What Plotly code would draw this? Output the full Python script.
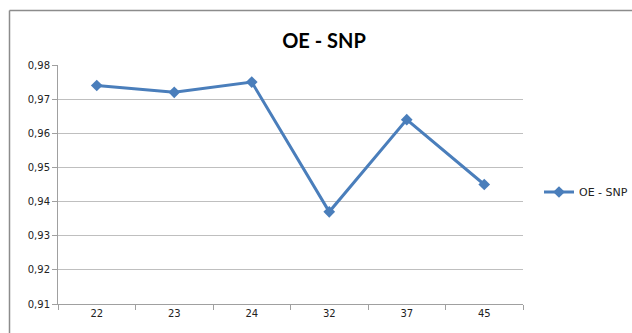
import plotly.graph_objects as go

# Series data
categories = ["22", "23", "24", "32", "37", "45"]
values = [0.974, 0.972, 0.975, 0.937, 0.964, 0.945]
series_name = "OE - SNP"
y_ticks = [0.91, 0.92, 0.93, 0.94, 0.95, 0.96, 0.97, 0.98]

W, H = 632, 333
L, R, T, B = 58, 109, 65, 29
pw, ph = W - L - R, H - T - B

def px_x(x):
    return (x - L) / pw

def px_y(y):
    return (H - B - y) / ph

BLUE = "#4A7EBB"
GRID = "#BFBFBF"

fig = go.Figure()
fig.add_trace(go.Scatter(
    x=categories, y=values, name=series_name,
    mode="lines+markers",
    line=dict(color=BLUE, width=3),
    marker=dict(symbol="diamond", size=9, color=BLUE),
))

fig.update_layout(
    width=W, height=H,
    margin=dict(l=L, r=R, t=T, b=B, autoexpand=False),
    paper_bgcolor="white", plot_bgcolor="white",
    separators=",.",
    font=dict(family="DejaVu Sans", size=10, color="#222222"),
    title=dict(text="<b>OE - SNP</b>", x=324 / W, xanchor="center",
               y=1 - 41 / H, yanchor="middle",
               font=dict(family="Lato", size=20, color="#000000")),
    showlegend=True,
    legend=dict(x=px_x(539), y=px_y(192), xanchor="left", yanchor="middle",
                font=dict(family="DejaVu Sans", size=11, color="#222222"),
                bgcolor="rgba(0,0,0,0)", itemwidth=30),
    xaxis=dict(type="category", showgrid=False, showline=True, linecolor="#A0A0A0",
               linewidth=1, ticks="outside", ticklen=5, tickcolor="#A0A0A0",
               tickson="boundaries", range=[-0.5, 5.5], zeroline=False),
    yaxis=dict(range=[0.91, 0.98], tickvals=y_ticks, tickformat=".2f",
               showgrid=True, gridcolor=GRID, gridwidth=1,
               showline=True, linecolor="#A0A0A0", linewidth=1,
               ticks="outside", ticklen=5, tickcolor="#A0A0A0", zeroline=False),
)

# Outer chart frame (top and left edges)
fig.add_shape(type="line", xref="paper", yref="paper",
              x0=px_x(9.5), x1=px_x(W + 5), y0=px_y(10.5), y1=px_y(10.5),
              line=dict(color="#8C8C8C", width=1.5))
fig.add_shape(type="line", xref="paper", yref="paper",
              x0=px_x(9.5), x1=px_x(9.5), y0=px_y(10.5), y1=px_y(H + 5),
              line=dict(color="#8C8C8C", width=1.5))

fig.write_html("out.html")
